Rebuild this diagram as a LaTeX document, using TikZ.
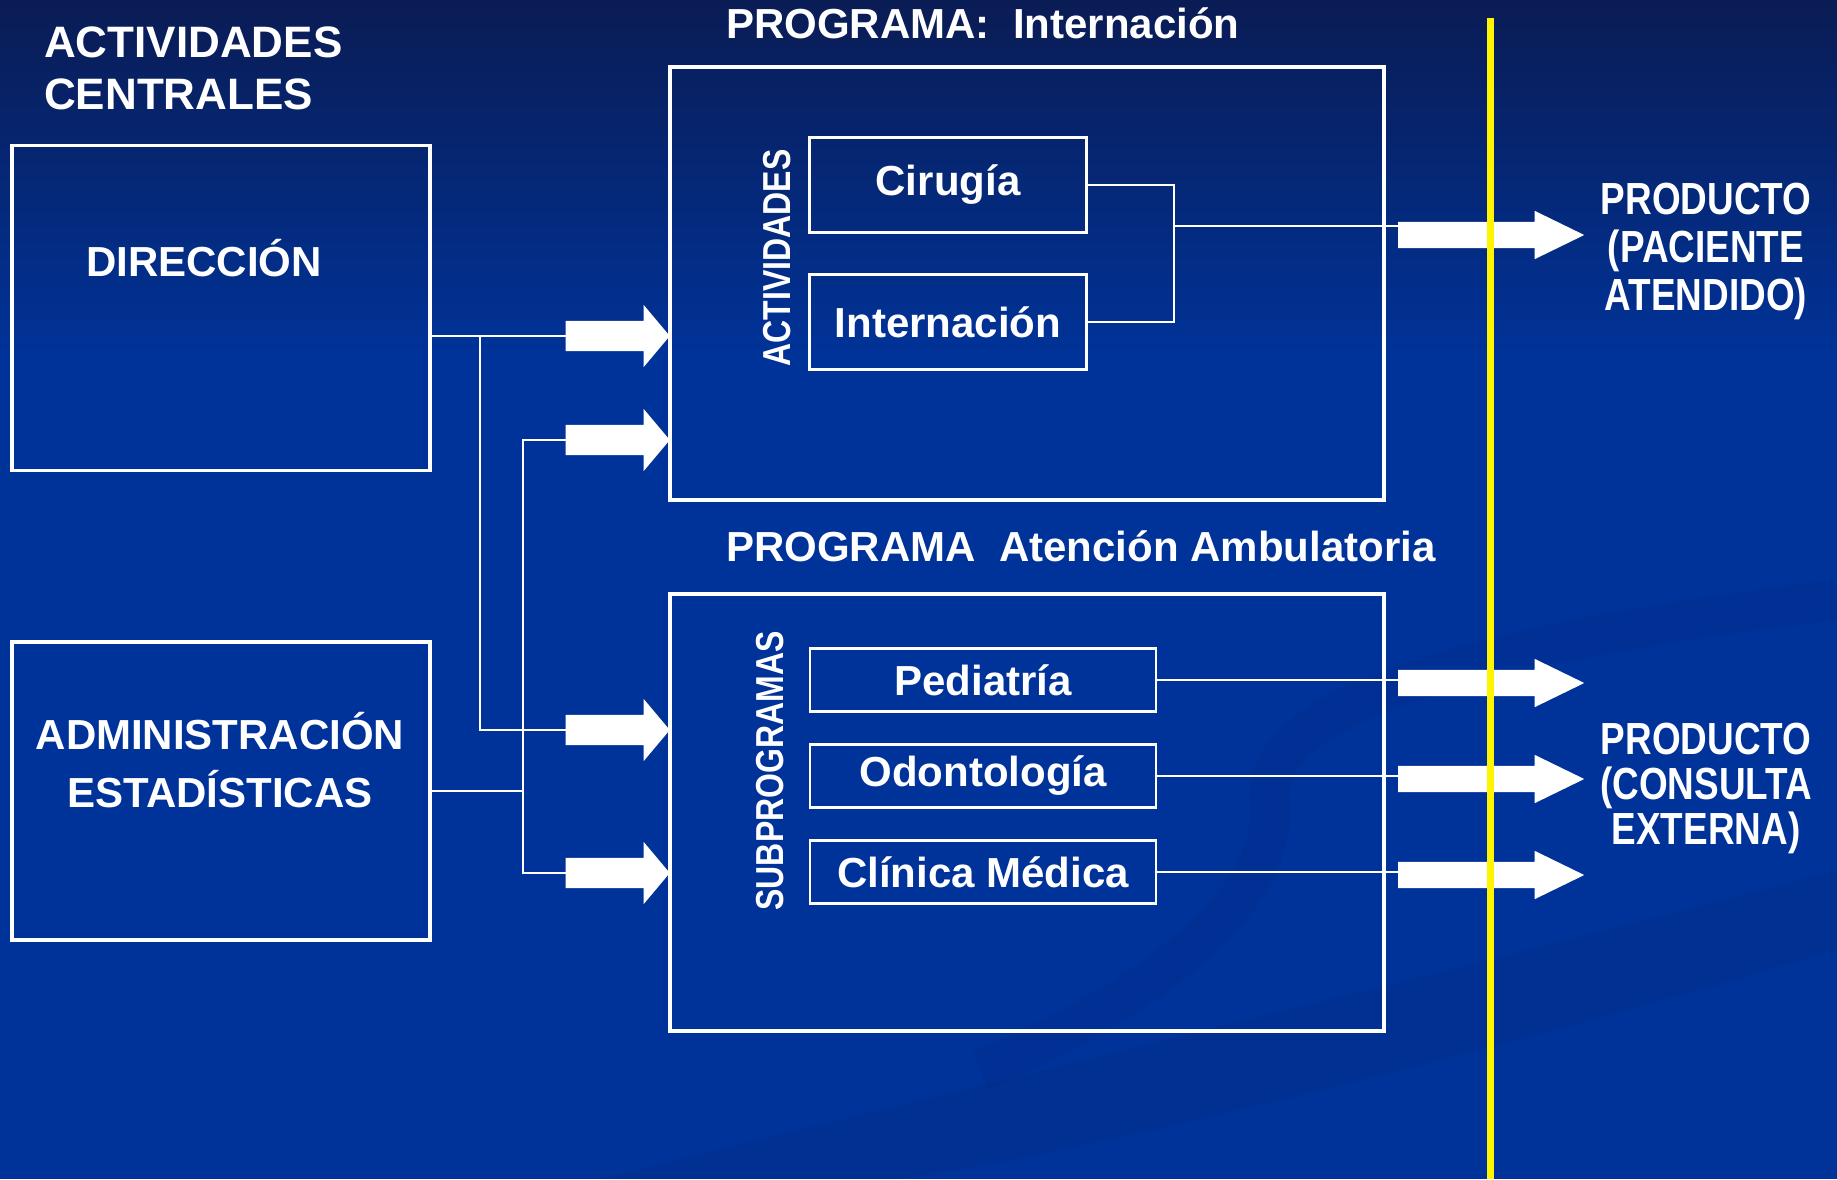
\documentclass[tikz,border=0pt]{standalone}
\usepackage{fontspec}
\setmainfont{Liberation Sans}
\newfontfamily\narrowfont{Liberation Sans}[FakeStretch=0.82]
\usepackage{tikz}
\usetikzlibrary{shapes.arrows, positioning}

\definecolor{bgtop}{RGB}{10,28,84}
\definecolor{bgblue}{RGB}{0,51,153}
\definecolor{swirl}{RGB}{0,38,120}
\definecolor{divider}{RGB}{255,245,0}

\tikzset{
  bigfont/.style={font=\fontsize{42}{52}\selectfont\bfseries},
  slimfont/.style={font=\fontsize{45}{48}\narrowfont\bfseries},
  sidebox/.style={draw=white, line width=3.5pt, inner sep=0pt},
  progbox/.style={draw=white, line width=4pt, inner sep=0pt},
  itembox/.style={draw=white, line width=2.5pt, inner sep=0pt, text=white, bigfont},
  lbl/.style={text=white, inner sep=0pt, bigfont},
  wire/.style={draw=white, line width=2pt},
  inarrow/.style={single arrow, fill=white, draw=none, inner xsep=0pt, inner ysep=15pt,
    minimum height=104pt, single arrow head extend=16pt, single arrow tip angle=100,
    single arrow head indent=0pt, anchor=tip},
  outarrow/.style={single arrow, fill=white, draw=none, inner xsep=0pt, inner ysep=13pt,
    minimum height=186pt, single arrow head extend=11pt, single arrow tip angle=52,
    single arrow head indent=0pt, anchor=tail}
}

\begin{document}
\begin{tikzpicture}[x=1pt, y=-1pt]
  \useasboundingbox (0,0) rectangle (1837,1179);
  % background
  \fill[bgblue] (0,0) rectangle (1837,1179);
  \shade[top color=bgtop, bottom color=bgblue] (0,0) rectangle (1837,360);
  \fill[swirl, opacity=0.2] (600,1179) .. controls (1000,1080) and (1500,960) .. (1837,870)
    -- (1837,950) .. controls (1500,1050) and (1100,1150) .. (900,1179) -- cycle;
  \draw[swirl, opacity=0.18, line width=40pt] (1837,600) .. controls (1500,640) and (1260,700) .. (1270,800)
    .. controls (1280,900) and (1150,1000) .. (980,1070);

  % central activities
  \node[lbl, anchor=north west, align=left, font=\fontsize{44}{52}\selectfont\bfseries] (central) at (44,27) {ACTIVIDADES\\CENTRALES};
  \node[sidebox, minimum width=418pt, minimum height=325pt] (dir) at (221,308) {};
  \node[lbl] (dirtxt) at (204,258) {DIRECCIÓN};
  \node[sidebox, minimum width=418pt, minimum height=298pt] (adm) at (221,791) {};
  \node[lbl, align=center, font=\fontsize{42}{58}\selectfont\bfseries] (admtxt) at (220,760) {ADMINISTRACIÓN\\ESTADÍSTICAS};

  % programs
  \node[lbl, anchor=west] (titint) at (726,23) {PROGRAMA:\ \ Internación};
  \node[progbox, minimum width=714pt, minimum height=433pt] (pint) at (1027,283) {};
  \node[lbl, anchor=west] (titamb) at (726,546) {PROGRAMA\ \ Atención Ambulatoria};
  \node[progbox, minimum width=714pt, minimum height=437pt] (pamb) at (1027,812) {};

  \node[text=white, inner sep=0pt, rotate=90, font=\fontsize{39}{44}\narrowfont\bfseries] (act) at (777,258) {ACTIVIDADES};
  \node[text=white, inner sep=0pt, rotate=90, font=\fontsize{39}{44}\narrowfont\bfseries] (sub) at (770,771) {SUBPROGRAMAS};

  \node[itembox, minimum width=277pt, minimum height=95pt] (cir) at (948,185) {Cirugía};
  \node[itembox, minimum width=277pt, minimum height=95pt] (int) at (948,322) {Internación};
  \node[itembox, minimum width=346pt, minimum height=63pt] (ped) at (983,680) {Pediatría};
  \node[itembox, minimum width=346pt, minimum height=63pt] (odo) at (983,776) {Odontología};
  \node[itembox, minimum width=346pt, minimum height=63pt] (cli) at (983,872) {Clínica Médica};

  % arrows in
  \node[inarrow] (a1) at (670,336) {};
  \node[inarrow] (a2) at (670,440) {};
  \node[inarrow] (a3) at (670,730) {};
  \node[inarrow] (a4) at (670,873) {};
  % arrows out
  \node[outarrow] (o1) at (1398,235) {};
  \node[outarrow] (o2) at (1398,683) {};
  \node[outarrow] (o3) at (1398,779) {};
  \node[outarrow] (o4) at (1398,875) {};

  % wires
  \coordinate (dv) at (480,0);
  \coordinate (av) at (523,0);
  \draw[wire] (a1.tail -| dir.east) -- (a1.tail);
  \draw[wire] (a1.tail -| dv) |- (a3.tail);
  \draw[wire] (adm.east) -- (adm.east -| av);
  \draw[wire] (a2.tail) -| (av |- a4.tail) -- (a4.tail);

  \coordinate (brk) at (1174,322);
  \coordinate (jn) at (1174,226);
  \draw[wire] (cir.east) -| (brk) -- (int.east);
  \draw[wire] (jn) -- (jn -| o1.tail);
  \draw[wire] (ped.east) -- (ped.east -| o2.tail);
  \draw[wire] (odo.east) -- (odo.east -| o3.tail);
  \draw[wire] (cli.east) -- (cli.east -| o4.tail);

  % products
  \node[text=white, align=center, inner sep=0pt, slimfont] (prod1) at (1706,251) {PRODUCTO\\(PACIENTE\\ATENDIDO)};
  \node[text=white, align=center, inner sep=0pt, slimfont, font=\fontsize{45}{45}\narrowfont\bfseries] (prod2) at (1706,788) {PRODUCTO\\(CONSULTA\\EXTERNA)};

  % divider
  \coordinate (ytop) at (1490,18);
  \coordinate (ybot) at (1490,1179);
  \draw[divider, line width=7pt] (ytop) -- (ybot);
\end{tikzpicture}
\end{document}
